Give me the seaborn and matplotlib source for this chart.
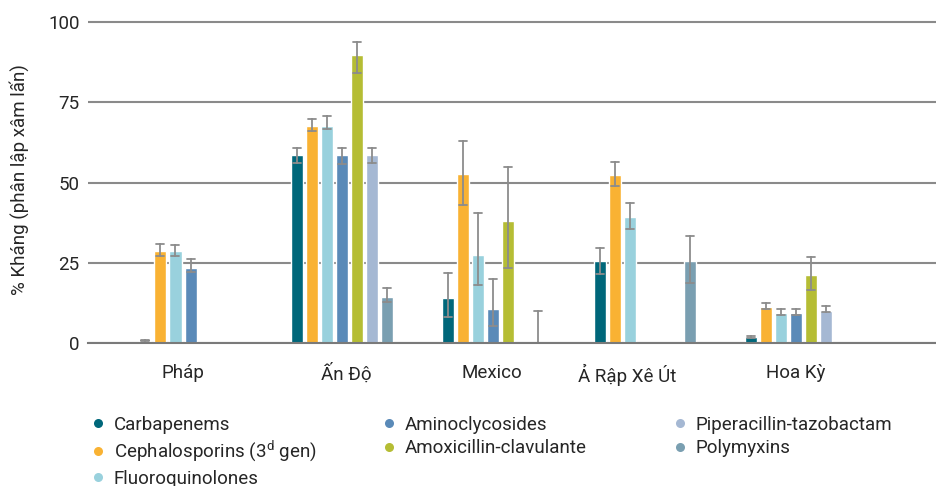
import matplotlib
matplotlib.use("Agg")
import matplotlib.pyplot as plt
import matplotlib.transforms as mtransforms
from matplotlib.lines import Line2D
import numpy as np
import pandas as pd
import seaborn as sns

# categories
countries = ["Pháp", "Ấn Độ", "Mexico", "Ả Rập Xê Út", "Hoa Kỳ"]
antibiotics = [
    "Carbapenems",
    "Cephalosporins (3$^{\\mathrm{d}}$ gen)",
    "Fluoroquinolones",
    "Aminoclycosides",
    "Amoxicillin-clavulante",
    "Piperacillin-tazobactam",
    "Polymyxins",
]
colors = ["#00677a", "#f9b233", "#99d1dd", "#5a8ab8", "#b5bd34", "#a5b8d3", "#7a9fb1"]

# % resistant per country (None = not reported), with error bar low / high
carbapenems = [0.7, 58.6, 14.0, 25.5, 1.8]
carbapenems_lo = [0.6, 56.0, 8.0, 21.6, 1.7]
carbapenems_hi = [0.9, 60.6, 21.8, 29.6, 2.2]

cephalosporins = [28.7, 67.6, 52.6, 52.3, 11.2]
cephalosporins_lo = [27.1, 66.0, 42.9, 48.8, 10.7]
cephalosporins_hi = [30.8, 69.9, 62.9, 56.5, 12.6]

fluoroquinolones = [28.7, 67.6, 27.4, 39.3, 9.3]
fluoroquinolones_lo = [27.1, 66.7, 18.0, 35.6, 8.7]
fluoroquinolones_hi = [30.6, 70.7, 40.4, 43.5, 10.5]

aminoglycosides = [23.4, 58.6, 10.6, None, 9.3]
aminoglycosides_lo = [22.0, 55.7, 5.4, None, 8.7]
aminoglycosides_hi = [26.1, 60.6, 20.0, None, 10.5]

amoxicillin = [None, 89.7, 38.0, None, 21.2]
amoxicillin_lo = [None, 84.0, 23.4, None, 16.5]
amoxicillin_hi = [None, 93.9, 54.9, None, 26.7]

piperacillin = [None, 58.6, None, None, 10.0]
piperacillin_lo = [None, 56.0, None, None, 9.7]
piperacillin_hi = [None, 60.6, None, None, 11.5]

polymyxins = [None, 14.3, 0.0, 25.5, None]
polymyxins_lo = [None, 12.8, 0.0, 18.6, None]
polymyxins_hi = [None, 17.0, 10.0, 33.2, None]

yticks = [0, 25, 50, 75, 100]
ylabel = "% Kháng (phân lập xâm lấn)"

series = [
    (carbapenems, carbapenems_lo, carbapenems_hi),
    (cephalosporins, cephalosporins_lo, cephalosporins_hi),
    (fluoroquinolones, fluoroquinolones_lo, fluoroquinolones_hi),
    (aminoglycosides, aminoglycosides_lo, aminoglycosides_hi),
    (amoxicillin, amoxicillin_lo, amoxicillin_hi),
    (piperacillin, piperacillin_lo, piperacillin_hi),
    (polymyxins, polymyxins_lo, polymyxins_hi),
]

# long table: three rows per bar (low, value, high) -> median = bar, min/max = error bar
rows = []
for name, (vals, los, his) in zip(antibiotics, series):
    for country, v, lo, hi in zip(countries, vals, los, his):
        if v is None:
            continue
        for p in (lo, v, hi):
            rows.append({"country": country, "antibiotic": name, "pct": p})
df = pd.DataFrame(rows)

sns.set_theme(style="white")
plt.rcParams["font.family"] = ["Roboto", "DejaVu Sans"]
plt.rcParams["mathtext.fontset"] = "custom"
plt.rcParams["mathtext.rm"] = "Roboto"
text_color = "#262626"
fs = 13.5

fig = plt.figure(figsize=(9.37, 4.86), dpi=100)
ax = fig.add_axes([88 / 937, 143 / 486, 849 / 937, 327.4 / 486])

sns.barplot(
    data=df,
    x="country",
    y="pct",
    hue="antibiotic",
    order=countries,
    hue_order=antibiotics,
    palette=colors,
    saturation=1,
    estimator="median",
    errorbar=lambda v: (v.min(), v.max()),
    width=0.694,
    gap=0.2,
    capsize=0.37,
    err_kws={"color": "#8c8c8c", "linewidth": 1.3},
    legend=False,
    ax=ax,
)

ax.set_ylim(0, 102)
ax.set_xlim(-0.677, 4.93)
ax.set_yticks(yticks)
ax.yaxis.grid(True, color="#8a8a8a", linewidth=1.5)
ax.set_axisbelow(True)
for side in ["left", "top", "right"]:
    ax.spines[side].set_visible(False)
ax.spines["bottom"].set_color("#7a7a7a")
ax.spines["bottom"].set_linewidth(1.5)

ax.set_xlabel("")
ax.set_ylabel(ylabel, fontsize=fs, color=text_color, labelpad=14)
ax.tick_params(axis="y", length=0, pad=6, labelsize=fs, labelcolor=text_color)
ax.tick_params(axis="x", which="major", length=0, pad=15, labelsize=fs, labelcolor=text_color)
ax.set_xticks(np.arange(len(countries)) + 0.5, minor=True)
ax.tick_params(axis="x", which="minor", length=9, width=1.2, color="#333333", direction="out")

# nudge labels like the original layout
label_shift = [-8, 4, -1, -18, 0]
for lab, dx in zip(ax.get_xticklabels(), label_shift):
    lab.set_transform(lab.get_transform() + mtransforms.ScaledTranslation(dx / 100, 0, fig.dpi_scale_trans))

# legend: three fixed columns of round markers
handles = [
    Line2D([], [], marker="o", linestyle="", markersize=6.5, markeredgewidth=0, color=c)
    for c in colors
]
col_groups = [[0, 1, 2], [3, 4], [5, 6]]
col_x = [92, 383, 674]
for idx, x0 in zip(col_groups, col_x):
    fig.legend(
        [handles[i] for i in idx],
        [antibiotics[i] for i in idx],
        loc="upper left",
        bbox_to_anchor=(x0 / 937, (486 - 416) / 486),
        bbox_transform=fig.transFigure,
        frameon=False,
        fontsize=fs,
        handlelength=0.6,
        handletextpad=0.55,
        labelspacing=0.27,
        borderpad=0,
        borderaxespad=0,
        labelcolor=text_color,
    )

fig.savefig("out.png", dpi=100)
